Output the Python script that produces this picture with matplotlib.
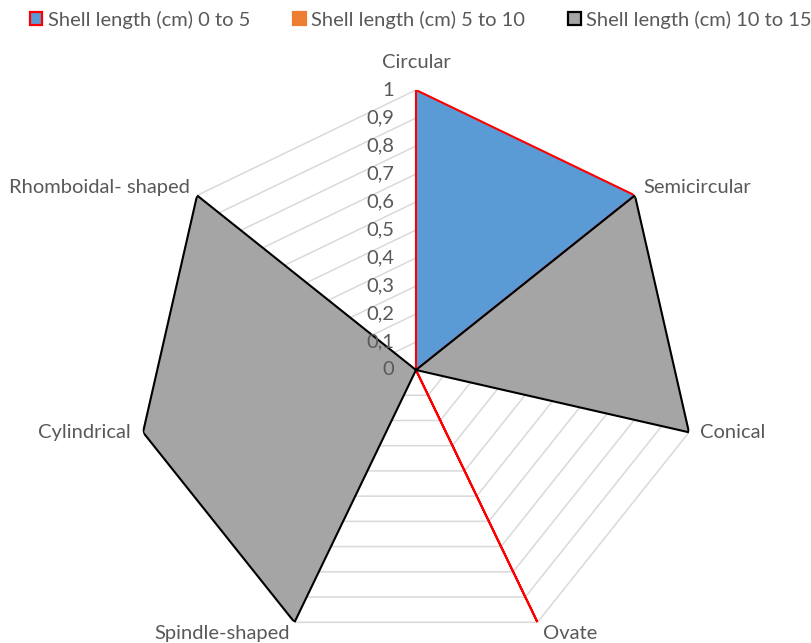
import numpy as np
import matplotlib
matplotlib.use("Agg")
import matplotlib.pyplot as plt
from matplotlib.patches import Patch

plt.rcParams['font.family'] = ['Lato', 'DejaVu Sans']

categories = ["Circular", "Semicircular", "Conical", "Ovate", "Spindle-shaped",
              "Cylindrical", "Rhomboidal- shaped"]
series_names = ["Shell length (cm) 0 to 5", "Shell length (cm) 5 to 10",
                "Shell length (cm) 10 to 15"]
s_0_5 = [1, 1, 0, 1, 0, 0, 0]
s_5_10 = [0, 0, 0, 0, 0, 0, 0]
s_10_15 = [0, 1, 1, 0, 1, 1, 1]
r_ticks = [0, 0.1, 0.2, 0.3, 0.4, 0.5, 0.6, 0.7, 0.8, 0.9, 1]
r_tick_labels = ["0", "0,1", "0,2", "0,3", "0,4", "0,5", "0,6", "0,7", "0,8", "0,9", "1"]

face = ["#5B9BD5", "#ED7D31", "#A5A5A5"]
edge = ["#FF0000", "#ED7D31", "#000000"]
txt_col = "#595959"
grid_col = "#D9D9D9"
FS = 14.5

W, H = 812, 643
fig = plt.figure(figsize=(W / 100, H / 100), dpi=100)
cx, cy, R = 416, 370, 280
ax = fig.add_axes([(cx - R) / W, (H - cy - R) / H, 2 * R / W, 2 * R / H], projection='polar')
ax.set_theta_offset(np.pi / 2)
ax.set_theta_direction(-1)
ax.set_ylim(0, 1)
ax.axis('off')

n = len(categories)
theta = np.arange(n) * 2 * np.pi / n
theta_c = np.append(theta, theta[0])

# grid heptagons
for v in r_ticks[1:]:
    ax.plot(theta_c, [v] * (n + 1), color=grid_col, lw=1.1, zorder=1)

for i, s in enumerate([s_0_5, s_5_10, s_10_15]):
    vals = np.append(s, s[0])
    ax.fill(theta_c, vals, facecolor=face[i], edgecolor=edge[i] if any(s) else 'none',
            lw=1.5, zorder=2 + i, joinstyle='miter')

# radial tick labels
for v, lab in zip(r_ticks, r_tick_labels):
    ax.annotate(lab, xy=(0, v), xytext=(-22, 0), textcoords='offset pixels',
                ha='right', va='center', fontsize=FS, color=txt_col, zorder=6)

# category labels
offsets = [(0, 27, 'center'), (8, 8, 'left'), (11, 0, 'left'), (6, -11, 'left'),
           (-5, -11, 'right'), (-12, 0, 'right'), (-7, 8, 'right')]
for t, lab, (dx, dy, ha) in zip(theta, categories, offsets):
    ax.annotate(lab, xy=(t, 1), xytext=(dx, dy), textcoords='offset pixels',
                ha=ha, va='center', fontsize=FS, color=txt_col, zorder=6,
                annotation_clip=False)

handles = [Patch(facecolor=face[i], edgecolor=edge[i], lw=1.6) for i in range(3)]
fig.legend(handles, series_names, loc='center left', bbox_to_anchor=(30 / W, 1 - 20 / H),
           ncol=3, frameon=False, fontsize=FS, labelcolor=txt_col, borderpad=0,
           borderaxespad=0, handlelength=0.62, handleheight=0.62, handletextpad=0.25,
           columnspacing=2.15)

fig.savefig("out.png", dpi=100)
